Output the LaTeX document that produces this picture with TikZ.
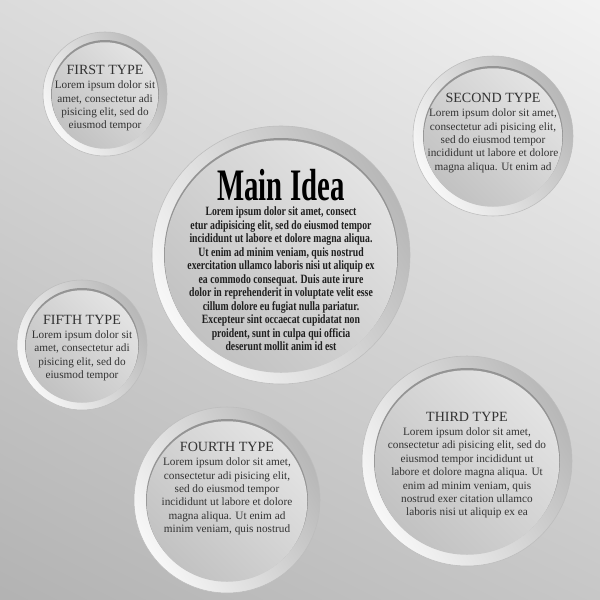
\documentclass[tikz,border=0pt]{standalone}
\usepackage{fontspec}
\setmainfont{Liberation Serif}
\usetikzlibrary{positioning,shadings}

\tikzset{
  ring/.style={top color=black!28, bottom color=black!3, shading angle=-60, draw=black!26, line width=0.4pt},
  rim/.style={fill=black!42},
  disc/.style={top color=black!11, bottom color=black!24, shading angle=-45},
  head/.style={inner sep=0pt, text=black!80, font=\fontsize{10}{12}\selectfont},
  body/.style={inner sep=0pt, text=black!80, align=center, font=\fontsize{8}{9.5}\selectfont},
}

\begin{document}
\begin{tikzpicture}[x=0.025cm, y=-0.025cm]

	\shade[upper left=black!14, upper right=black!5, lower left=black!30, lower right=black!22] (0,0) rectangle (600,600);

	% circles
	\path[ring] (281,255) circle[radius=129];
	\fill[rim]  (281,255) circle[radius=117];
	\path[disc] (281,256.5) circle[radius=116.25];

	\path[ring] (105,94) circle[radius=62];
	\fill[rim]  (105,94) circle[radius=54];
	\path[disc] (105,95.5) circle[radius=53.25];

	\path[ring] (493,136) circle[radius=80];
	\fill[rim]  (493,136) circle[radius=70];
	\path[disc] (493,137.5) circle[radius=69.25];

	\path[ring] (467,461) circle[radius=105];
	\fill[rim]  (467,461) circle[radius=93];
	\path[disc] (467,462.5) circle[radius=92.25];

	\path[ring] (227,500) circle[radius=93];
	\fill[rim]  (227,500) circle[radius=81];
	\path[disc] (227,501.5) circle[radius=80.25];

	\path[ring] (82,345) circle[radius=65];
	\fill[rim]  (82,345) circle[radius=57];
	\path[disc] (82,346.5) circle[radius=56.25];

	% texts
	\node[inner sep=0pt, font=\bfseries\fontsize{32}{32}\selectfont] (m) at (281,185.5) {\scalebox{0.64}[1]{Main Idea}};
	\node[inner sep=0pt, below=3pt of m, text=black!88, font=\bfseries\fontsize{9}{9.6}\selectfont] (mb) {\scalebox{0.77}[1]{\begin{tabular}{@{}c@{}}
		Lorem ipsum dolor sit amet, consect\\
		etur adipisicing elit, sed do eiusmod tempor\\
		incididunt ut labore et dolore magna aliqua.\\
		Ut enim ad minim veniam, quis nostrud\\
		exercitation ullamco laboris nisi ut aliquip ex\\
		ea commodo consequat. Duis aute irure\\
		dolor in reprehenderit in voluptate velit esse\\
		cillum dolore eu fugiat nulla pariatur.\\
		Excepteur sint occaecat cupidatat non\\
		proident, sunt in culpa qui officia\\
		deserunt mollit anim id est\end{tabular}}};

	\node[head] (a) at (105,70) {FIRST TYPE};
	\node[body, below=4pt of a] (a1) {Lorem ipsum dolor sit\\ amet, consectetur adi\\ pisicing elit, sed do\\ eiusmod tempor};

	\node[head] (b) at (493,98) {SECOND TYPE};
	\node[body, below=4pt of b] (b1) {Lorem ipsum dolor sit amet,\\ consectetur adi pisicing elit,\\ sed do eiusmod tempor\\ incididunt ut labore et dolore\\ magna aliqua. Ut enim ad};

	\node[head] (c) at (467,417) {THIRD TYPE};
	\node[body, below=4pt of c] (c1) {Lorem ipsum dolor sit amet,\\ consectetur adi pisicing elit, sed do\\ eiusmod tempor incididunt ut\\ labore et dolore magna aliqua. Ut\\ enim ad minim veniam, quis\\ nostrud exer citation ullamco\\ laboris nisi ut aliquip ex ea};

	\node[head] (d) at (227,447) {FOURTH TYPE};
	\node[body, below=4pt of d] (d1) {Lorem ipsum dolor sit amet,\\ consectetur adi pisicing elit,\\ sed do eiusmod tempor\\ incididunt ut labore et dolore\\ magna aliqua. Ut enim ad\\ minim veniam, quis nostrud};

	\node[head] (e) at (82,320) {FIFTH TYPE};
	\node[body, below=4pt of e] (e1) {Lorem ipsum dolor sit\\ amet, consectetur adi\\ pisicing elit, sed do\\ eiusmod tempor};

\end{tikzpicture}
\end{document}
